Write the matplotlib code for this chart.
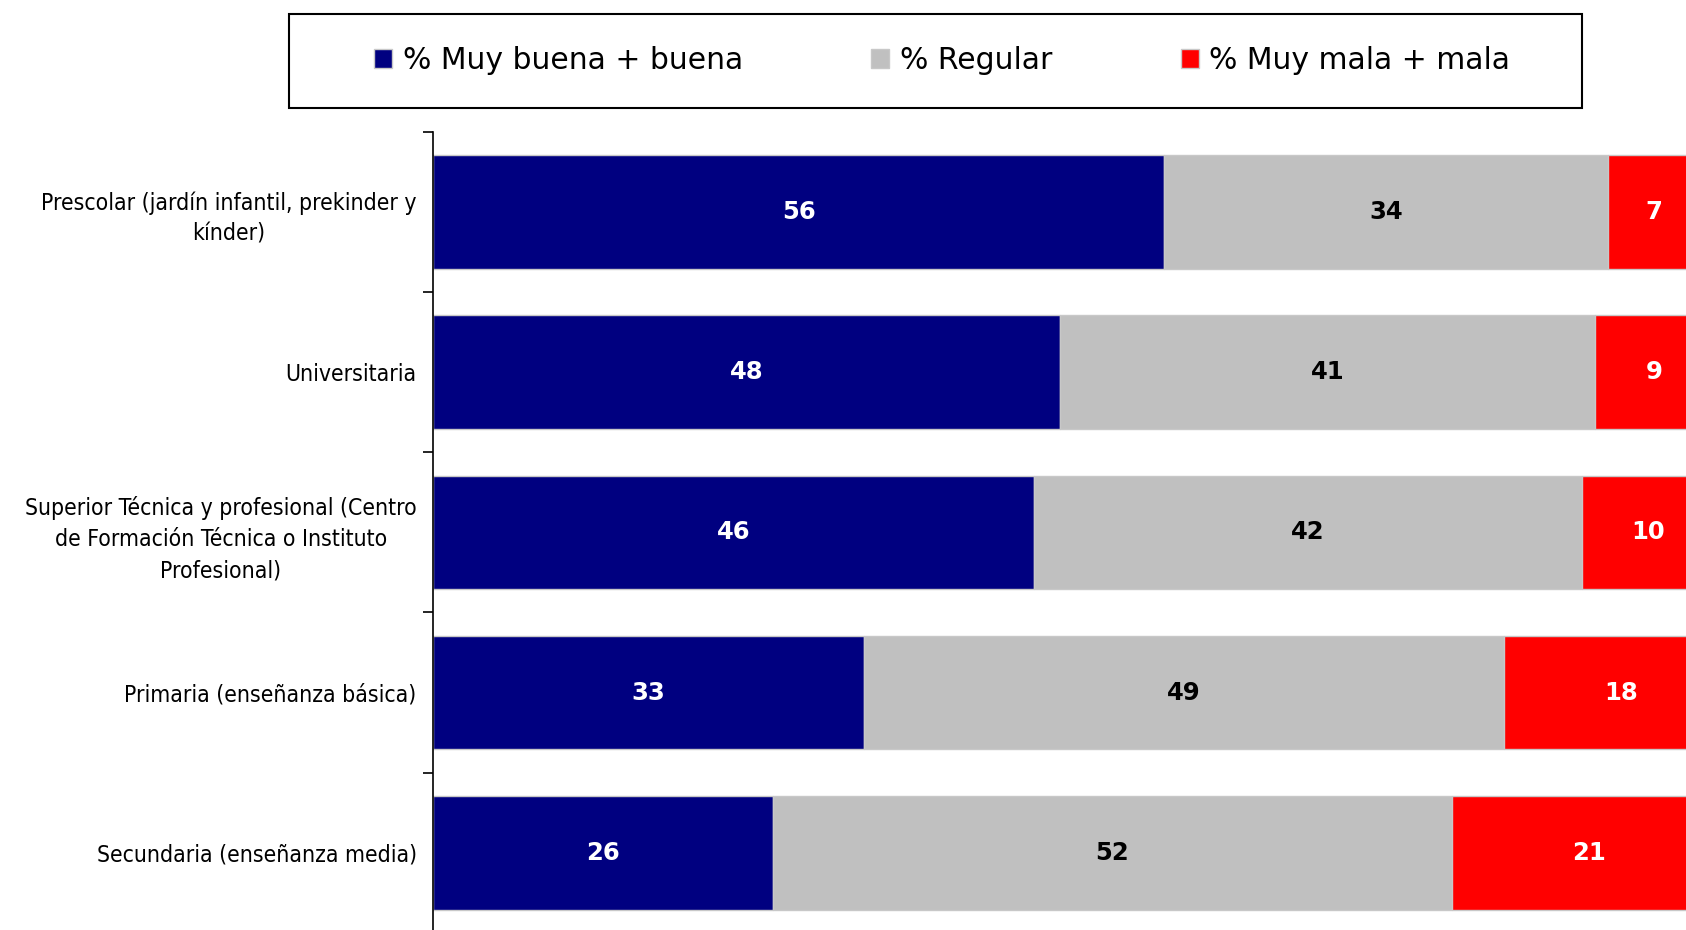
import numpy as np
import matplotlib.pyplot as plt
from matplotlib.patches import Patch, Rectangle

categorias = [
    'Prescolar (jardín infantil, prekinder y\nkínder)',
    'Universitaria',
    'Superior Técnica y profesional (Centro\nde Formación Técnica o Instituto\nProfesional)',
    'Primaria (enseñanza básica)',
    'Secundaria (enseñanza media)',
]
buena = [56, 48, 46, 33, 26]
regular = [34, 41, 42, 49, 52]
mala = [7, 9, 10, 18, 21]

series = ['% Muy buena + buena', '% Regular', '% Muy mala + mala']
colores = ['#000080', '#C0C0C0', '#FF0000']
color_texto = ['white', 'black', 'white']

plt.rcParams['font.family'] = ['DejaVu Sans']

fig = plt.figure(figsize=(16.86, 9.30), dpi=100)
ax = fig.add_axes([0.257, -0.003, 0.745, 0.861])

y = np.arange(len(categorias))
izq = np.zeros(len(categorias))
for vals, col, tcol in zip([buena, regular, mala], colores, color_texto):
    vals = np.array(vals, dtype=float)
    ax.barh(y, vals, left=izq, height=0.71, color=col,
            edgecolor='#C8C8C8', linewidth=1)
    for yi, l, v in zip(y, izq, vals):
        ax.text(l + v / 2, yi, f'{v:.0f}', ha='center', va='center',
                color=tcol, fontsize=17.5, fontweight='bold')
    izq += vals

ax.set_xlim(0, 96.2)
ax.set_ylim(len(categorias) - 0.5, -0.5)
ax.set_yticks(y)
ax.set_yticklabels(categorias, fontsize=16.5, ha='right', multialignment='center',
                   linespacing=1.45, fontstretch='condensed')
ax.tick_params(axis='y', length=0, pad=12)
ax.set_yticks(np.arange(len(categorias) + 1) - 0.5, minor=True)
ax.tick_params(axis='y', which='minor', length=7, width=1.2)
ax.set_xticks([])
for s in ['top', 'right', 'bottom']:
    ax.spines[s].set_visible(False)
ax.spines['left'].set_linewidth(1.2)

# recuadro de la leyenda
x0, x1 = 269 / 1568, 1471 / 1568
y0, y1 = 1 - 100 / 865, 1 - 13 / 865
fig.patches.append(Rectangle((x0, y0), x1 - x0, y1 - y0, transform=fig.transFigure,
                             facecolor='white', edgecolor='black', linewidth=1.5))

handles = [Patch(facecolor=c, edgecolor='#C8C8C8') for c in colores]
leg = fig.legend(handles, series, loc='center',
                 bbox_to_anchor=((x0 + x1) / 2 + 0.004, (y0 + y1) / 2),
                 ncol=3, fontsize=21.5, frameon=False,
                 handlelength=0.6, handleheight=0.6, handletextpad=0.35,
                 columnspacing=4.3)

fig.savefig('out.png', dpi=100)
